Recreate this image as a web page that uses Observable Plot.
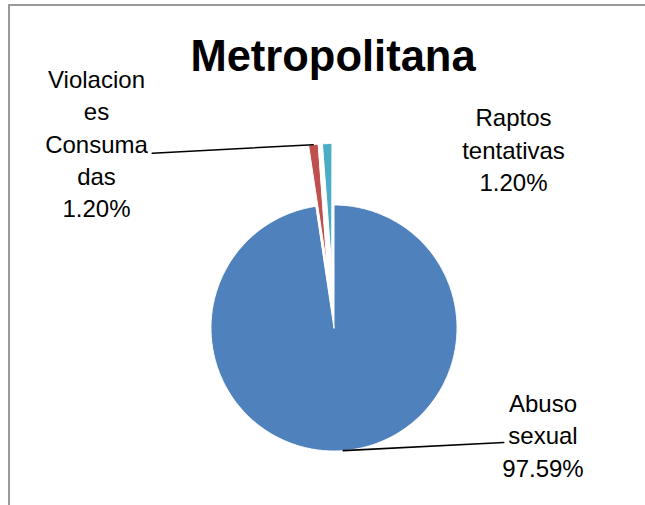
<!DOCTYPE html>
<html>
<head>
<meta charset="utf-8">
<script src="https://cdn.jsdelivr.net/npm/d3@7"></script>
<script src="https://cdn.jsdelivr.net/npm/@observablehq/plot@0.6"></script>
<style>
  html, body { margin: 0; padding: 0; background: #fff; }
  #wrap { position: relative; width: 645px; height: 505px; overflow: hidden; }
  #border { position: absolute; left: 8px; top: 3.5px; width: 800px; height: 800px;
            border-left: 2px solid #9a9a9a; border-top: 2px solid #9a9a9a; pointer-events: none; }
  svg { display: block; }
</style>
</head>
<body>
<div id="wrap"><div id="border"></div></div>
<script>
// ---- data ----
const title = "Metropolitana";
const categories = ["Abuso sexual", "Violaciones Consumadas", "Raptos tentativas"];
const shares = [97.59, 1.20, 1.20];
const pctLabels = ["97.59%", "1.20%", "1.20%"];
const labelLines = [["Abuso", "sexual"], ["Violacion", "es", "Consuma", "das"], ["Raptos", "tentativas"]];
const colors = ["#4F81BD", "#C0504D", "#4BACC6"];
const explode = [0, 0.5, 0.5];

// ---- layout (pixels) ----
const W = 645, H = 505;
const CX = 333.5, CY = 327.5, R = 123;
const FONT = "'Liberation Sans', Arial, sans-serif";
const labelPos = [ {x: 542.5, y: 476}, {x: 96, y: 216.7}, {x: 513, y: 190.5} ];
const leaderEnd = [ {x: 503.3, y: 442}, {x: 151.7, y: 152.7}, null ];
const titlePos = {x: 332.5, y: 70};

const ux = px => (px - CX) / R;
const uy = py => (CY - py) / R;

const arcs = d3.pie().sort(null).value(d => d)(shares);

// slice polygons in pie units (radius = 1, centre 0,0, y up)
const slices = arcs.map((a, i) => {
  const mid = (a.startAngle + a.endAngle) / 2;
  const ox = explode[i] * Math.sin(mid), oy = explode[i] * Math.cos(mid);
  const pts = [{x: ox, y: oy, i}];
  const n = Math.max(2, Math.ceil((a.endAngle - a.startAngle) / 0.01));
  for (let k = 0; k <= n; k++) {
    const t = a.startAngle + (a.endAngle - a.startAngle) * k / n;
    pts.push({x: ox + Math.sin(t), y: oy + Math.cos(t), i});
  }
  return {pts, mid, ox, oy};
});

const leaders = [];
slices.forEach((s, i) => {
  if (!leaderEnd[i]) return;
  leaders.push({x: s.ox + Math.sin(s.mid), y: s.oy + Math.cos(s.mid), i});
  leaders.push({x: ux(leaderEnd[i].x), y: uy(leaderEnd[i].y), i});
});

const labels = categories.map((c, i) => ({
  text: labelLines[i].concat([pctLabels[i]]).join("\n"),
  x: ux(labelPos[i].x), y: uy(labelPos[i].y)
}));

const chart = Plot.plot({
  width: W, height: H,
  margin: 0,
  x: {domain: [ux(0), ux(W)], axis: null},
  y: {domain: [uy(H), uy(0)], axis: null},
  style: {background: "transparent", fontFamily: FONT},
  marks: [
    ...slices.map((s, i) => Plot.line(s.pts, {
      x: "x", y: "y", curve: "linear-closed",
      fill: colors[i], stroke: "#fff", strokeWidth: 1, strokeLinejoin: "round"
    })),
    Plot.line(leaders, {x: "x", y: "y", z: "i", stroke: "#000", strokeWidth: 1.6}),
    Plot.text(labels, {
      x: "x", y: "y", text: "text", lineAnchor: "bottom", lineHeight: 1.346,
      fontSize: 24, fill: "#000", textAnchor: "middle"
    }),
    Plot.text([title], {
      x: () => ux(titlePos.x), y: () => uy(titlePos.y), text: d => d,
      lineAnchor: "bottom", fontSize: 43.5, fontWeight: "bold", fill: "#000"
    })
  ]
});
document.getElementById("wrap").prepend(chart);
</script>
</body>
</html>
